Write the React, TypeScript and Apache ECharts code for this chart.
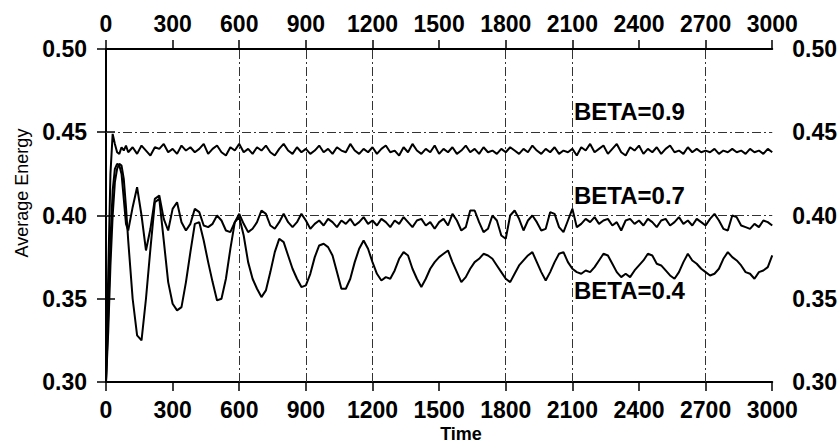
import React, { useEffect, useRef } from "react";
import * as echarts from "echarts";

// Sampling times (time units)
const timesEarly = [0, 10, 20, 30, 40, 50, 60, 70, 80, 90];
const timesLate = Array.from({ length: 146 }, (_, i) => 100 + 20 * i);
const times = [...timesEarly, ...timesLate];

const vGrid = [600, 900, 1200, 1800, 2100, 2700];
const hGrid = [0.45, 0.4];

const beta09 = [
  0.300, 0.365, 0.425, 0.449, 0.443, 0.438, 0.437, 0.441, 0.439, 0.442,
  0.438, 0.441, 0.437, 0.442, 0.439, 0.436, 0.441, 0.440, 0.443, 0.438,
  0.440, 0.437, 0.442, 0.439, 0.441, 0.438, 0.440, 0.443, 0.437, 0.440,
  0.442, 0.438, 0.436, 0.441, 0.439, 0.443, 0.438, 0.440, 0.437, 0.441,
  0.439, 0.442, 0.438, 0.436, 0.440, 0.443, 0.439, 0.437, 0.441, 0.438,
  0.440, 0.437, 0.439, 0.442, 0.438, 0.440, 0.437, 0.441, 0.439, 0.438,
  0.443, 0.439, 0.437, 0.440, 0.438, 0.441, 0.437, 0.440, 0.442, 0.438,
  0.439, 0.436, 0.441, 0.438, 0.443, 0.439, 0.437, 0.440, 0.438, 0.442,
  0.437, 0.440, 0.438, 0.441, 0.437, 0.439, 0.442, 0.438, 0.440, 0.437,
  0.441, 0.438, 0.439, 0.437, 0.440, 0.438, 0.441, 0.439, 0.437, 0.440,
  0.438, 0.442, 0.439, 0.437, 0.440, 0.438, 0.441, 0.437, 0.439, 0.438,
  0.440, 0.436, 0.441, 0.439, 0.443, 0.438, 0.440, 0.442, 0.437, 0.440,
  0.443, 0.438, 0.436, 0.441, 0.439, 0.442, 0.437, 0.440, 0.438, 0.441,
  0.437, 0.440, 0.442, 0.438, 0.439, 0.437, 0.441, 0.438, 0.440, 0.438,
  0.439, 0.438, 0.440, 0.437, 0.439, 0.438, 0.440, 0.438, 0.439, 0.437,
  0.440, 0.438, 0.439, 0.437, 0.440, 0.438,
];

const beta07 = [
  0.300, 0.340, 0.385, 0.415, 0.428, 0.431, 0.430, 0.425, 0.410, 0.395,
  0.391, 0.405, 0.417, 0.400, 0.379, 0.392, 0.410, 0.412, 0.398, 0.391,
  0.404, 0.408, 0.396, 0.391, 0.395, 0.404, 0.402, 0.394, 0.393, 0.395,
  0.400, 0.397, 0.391, 0.390, 0.396, 0.401, 0.395, 0.390, 0.392, 0.396,
  0.403, 0.401, 0.394, 0.392, 0.396, 0.401, 0.396, 0.393, 0.396, 0.401,
  0.397, 0.392, 0.395, 0.397, 0.394, 0.398, 0.396, 0.393, 0.397, 0.395,
  0.398, 0.394, 0.396, 0.399, 0.395, 0.397, 0.394, 0.398, 0.396, 0.393,
  0.397, 0.395, 0.399, 0.396, 0.393, 0.397, 0.398, 0.394, 0.396, 0.392,
  0.396, 0.398, 0.394, 0.401, 0.397, 0.391, 0.393, 0.403, 0.403, 0.396,
  0.390, 0.392, 0.400, 0.397, 0.388, 0.386, 0.400, 0.403, 0.398, 0.391,
  0.397, 0.400, 0.396, 0.391, 0.392, 0.402, 0.401, 0.393, 0.390, 0.397,
  0.404, 0.393, 0.395, 0.398, 0.396, 0.399, 0.395, 0.397, 0.398, 0.394,
  0.396, 0.391, 0.397, 0.398, 0.395, 0.397, 0.394, 0.398, 0.396, 0.393,
  0.397, 0.398, 0.394, 0.396, 0.399, 0.395, 0.397, 0.394, 0.398, 0.396,
  0.394, 0.398, 0.401, 0.397, 0.392, 0.391, 0.400, 0.399, 0.394, 0.393,
  0.392, 0.395, 0.393, 0.397, 0.396, 0.394,
];

const beta04 = [
  0.300, 0.330, 0.370, 0.400, 0.420, 0.428, 0.431, 0.430, 0.422, 0.405,
  0.385, 0.350, 0.328, 0.325, 0.350, 0.380, 0.408, 0.410, 0.385, 0.360,
  0.347, 0.343, 0.345, 0.360, 0.378, 0.395, 0.396, 0.385, 0.372, 0.360,
  0.349, 0.350, 0.362, 0.380, 0.396, 0.399, 0.388, 0.372, 0.362, 0.356,
  0.351, 0.355, 0.366, 0.378, 0.386, 0.384, 0.376, 0.368, 0.362, 0.357,
  0.358, 0.365, 0.375, 0.382, 0.383, 0.381, 0.376, 0.366, 0.356, 0.356,
  0.362, 0.372, 0.380, 0.385, 0.380, 0.372, 0.365, 0.361, 0.363, 0.362,
  0.367, 0.374, 0.378, 0.376, 0.368, 0.362, 0.357, 0.362, 0.368, 0.372,
  0.375, 0.377, 0.379, 0.372, 0.366, 0.360, 0.363, 0.368, 0.372, 0.374,
  0.377, 0.376, 0.374, 0.370, 0.366, 0.362, 0.360, 0.365, 0.370, 0.373,
  0.376, 0.378, 0.372, 0.366, 0.361, 0.366, 0.372, 0.377, 0.378, 0.372,
  0.368, 0.366, 0.365, 0.367, 0.366, 0.369, 0.373, 0.377, 0.376, 0.371,
  0.366, 0.363, 0.365, 0.363, 0.367, 0.370, 0.373, 0.377, 0.376, 0.371,
  0.370, 0.367, 0.364, 0.362, 0.366, 0.372, 0.377, 0.373, 0.371, 0.368,
  0.366, 0.364, 0.365, 0.368, 0.374, 0.378, 0.375, 0.373, 0.370, 0.366,
  0.365, 0.362, 0.366, 0.367, 0.369, 0.376,
];

const seriesNames = ["BETA=0.9", "BETA=0.7", "BETA=0.4"];
const seriesValues = [beta09, beta07, beta04];
const labelValues = [0.9, 0.7, 0.4];

const FONT = "'Liberation Sans', Arial, Helvetica, sans-serif";

export default function App() {
  const ref = useRef<HTMLDivElement>(null);
  useEffect(() => {
    document.body.style.margin = "0";
    if (!ref.current) return;
    const chart = echarts.init(ref.current, undefined, { renderer: "svg" });

    const pair = (vals: number[]) =>
      vals.map((v, i) => [times[i], v]).filter((p) => p[0] !== undefined);

    const axisCommon = {
      type: "value" as const,
      axisLine: { show: true, lineStyle: { color: "#000", width: 2 } },
      axisTick: { show: true, inside: false, length: 9, lineStyle: { color: "#000", width: 1.5 } },
      splitLine: { show: false },
    };

    const label = {
      color: "#000",
      fontSize: 23,
      fontWeight: "bold" as const,
      fontFamily: FONT,
    };

    const markLineData: any[] = [
      ...vGrid.map((x) => ({ xAxis: x })),
      ...hGrid.map((y) => ({ yAxis: y })),
    ];

    const series: any[] = seriesValues.map((vals, k) => ({
      name: seriesNames[k],
      type: "line",
      data: pair(vals),
      showSymbol: false,
      symbol: "none",
      lineStyle: { color: "#000", width: 2 },
      z: 3,
      silent: true,
    }));

    series[0].markLine = {
      silent: true,
      symbol: "none",
      label: { show: false },
      lineStyle: { color: "#333", width: 1, type: [9, 3, 2, 3] },
      data: markLineData,
      z: 2,
    };

    const yPos = (v: number) => chart.convertToPixel({ yAxisIndex: 0 }, v);

    const option: any = {
      animation: false,
      backgroundColor: "#fff",
      grid: { left: 106, right: 67, top: 49, bottom: 64 },
      xAxis: [
        {
          ...axisCommon,
          position: "bottom",
          min: 0,
          max: 3000,
          interval: 300,
          axisLabel: { ...label, margin: 16, formatter: (v: number) => String(v) },
        },
        {
          ...axisCommon,
          position: "top",
          min: 0,
          max: 3000,
          interval: 300,
          axisLabel: { ...label, margin: 14, formatter: (v: number) => String(v) },
        },
      ],
      yAxis: [
        {
          ...axisCommon,
          position: "left",
          min: 0.3,
          max: 0.5,
          interval: 0.05,
          axisLabel: { ...label, margin: 19, formatter: (v: number) => v.toFixed(2) },
        },
        {
          ...axisCommon,
          position: "right",
          min: 0.3,
          max: 0.5,
          interval: 0.05,
          axisLabel: { ...label, margin: 20, formatter: (v: number) => v.toFixed(2) },
        },
      ],
      series,
      graphic: [],
    };

    chart.setOption(option);

    const labelY = [0.4622, 0.4119, 0.3549];
    const graphic: any[] = [
      {
        type: "text",
        x: 22,
        y: 193,
        rotation: Math.PI / 2,
        style: {
          text: "Average Energy",
          fill: "#000",
          font: `18px ${FONT}`,
          textAlign: "center",
          textVerticalAlign: "middle",
        },
      },
      {
        type: "text",
        x: 461,
        y: 434,
        style: {
          text: "Time",
          fill: "#000",
          font: `bold 18px ${FONT}`,
          textAlign: "center",
          textVerticalAlign: "middle",
        },
      },
      ...labelValues.map((b, k) => ({
        type: "text",
        x: 574,
        y: yPos(labelY[k]),
        style: {
          text: "BETA=" + b.toFixed(1),
          fill: "#000",
          font: `bold 24px ${FONT}`,
          textAlign: "left",
          textVerticalAlign: "middle",
        },
      })),
    ];
    chart.setOption({ graphic });

    return () => chart.dispose();
  }, []);

  return (
    <div
      ref={ref}
      style={{ position: "absolute", left: 0, top: 0, width: 840, height: 446 }}
    />
  );
}
